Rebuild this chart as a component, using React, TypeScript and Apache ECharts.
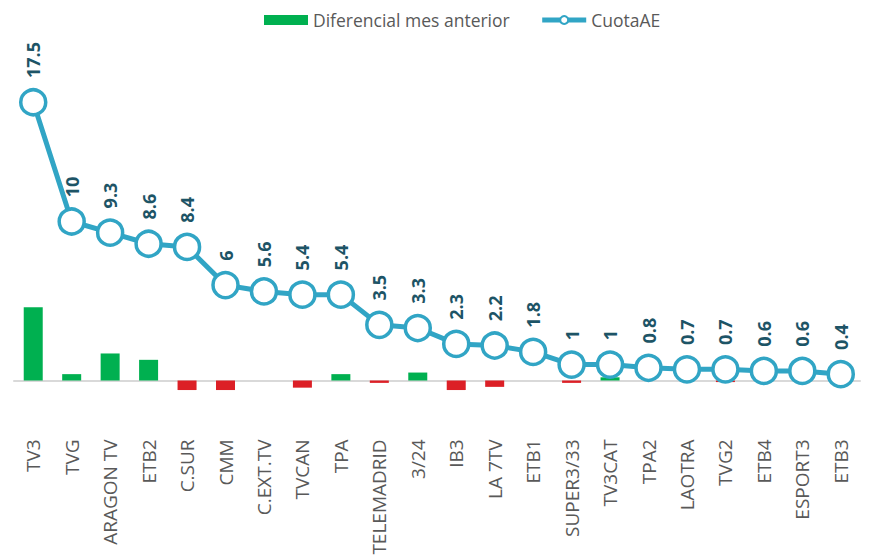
import React, { useEffect, useRef } from "react";
import * as echarts from "echarts";

const categories = ["TV3", "TVG", "ARAGON TV", "ETB2", "C.SUR", "CMM", "C.EXT.TV", "TVCAN", "TPA", "TELEMADRID", "3/24", "IB3", "LA 7TV", "ETB1", "SUPER3/33", "TV3CAT", "TPA2", "LAOTRA", "TVG2", "ETB4", "ESPORT3", "ETB3"];
const cuotaAE = [17.5, 10, 9.3, 8.6, 8.4, 6, 5.6, 5.4, 5.4, 3.5, 3.3, 2.3, 2.2, 1.8, 1, 1, 0.8, 0.7, 0.7, 0.6, 0.6, 0.4];
const diferencial = [4.6, 0.4, 1.7, 1.3, -0.6, -0.6, 0, -0.45, 0.4, -0.15, 0.5, -0.6, -0.4, 0, -0.15, 0.2, 0, 0, -0.1, 0, 0, 0];

const GREEN = "#00B050";
const RED = "#DC1F26";
const BLUE = "#31A5C5";

export default function App() {
  const ref = useRef<HTMLDivElement>(null);
  useEffect(() => {
    document.body.style.margin = "0";
    const chart = echarts.init(ref.current!, null, { renderer: "svg" });
    chart.setOption({
      animation: false,
      backgroundColor: "#ffffff",
      textStyle: { fontFamily: "Open Sans" },
      legend: {
        top: 6,
        left: 259,
        itemWidth: 44,
        itemHeight: 10,
        itemGap: 30,
        textStyle: { fontSize: 17.5, color: "#595959", fontFamily: "Open Sans" },
        data: [
          { name: "Diferencial mes anterior", icon: "rect", itemStyle: { color: GREEN } },
          { name: "CuotaAE", lineStyle: { width: 5, color: BLUE } },
        ],
      },
      grid: { left: 14, right: 18, top: 62.5, bottom: 557 - 396.4, outerBoundsMode: "none", containLabel: false },
      xAxis: {
        type: "category",
        data: categories,
        axisLine: { onZero: true, lineStyle: { color: "#D9D9D9", width: 2 } },
        axisTick: { show: false },
        axisLabel: { rotate: 90, margin: 43, fontSize: 19, color: "#595959", interval: 0, fontFamily: "Open Sans" },
      },
      yAxis: {
        type: "value",
        min: -1,
        max: 20,
        show: false,
        splitLine: { show: false },
      },
      series: [
        {
          name: "Diferencial mes anterior",
          type: "bar",
          barWidth: 19,
          itemStyle: { color: GREEN },
          data: diferencial.map((v) => ({ value: v, itemStyle: { color: v < 0 ? RED : GREEN } })),
          z: 1,
        },
        {
          name: "CuotaAE",
          type: "line",
          data: cuotaAE,
          symbol: "circle",
          symbolSize: 25,
          lineStyle: { color: BLUE, width: 5 },
          itemStyle: { color: "#ffffff", borderColor: BLUE, borderWidth: 3.5 },
          label: {
            show: true,
            position: "top",
            rotate: 90,
            align: "left",
            verticalAlign: "middle",
            distance: 10,
            fontSize: 18,
            fontWeight: "bold",
            color: "#1D5466",
            fontFamily: "Open Sans",
          },
          z: 3,
        },
      ],
    });
    return () => chart.dispose();
  }, []);
  return <div ref={ref} style={{ width: 878, height: 557 }} />;
}
